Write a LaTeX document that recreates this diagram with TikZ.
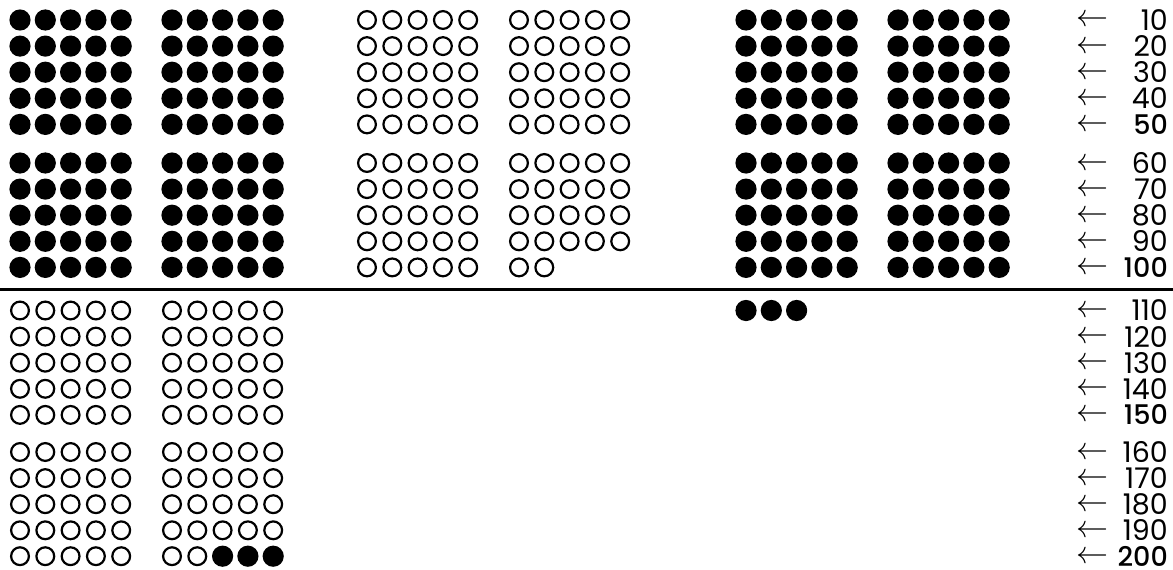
\documentclass[tikz,border=0pt]{standalone}
\usepackage{fontspec}
\setmainfont{Poppins}[BoldFont={Poppins Medium}]
\newfontfamily\arrowfont{latinmodern-math.otf}
\begin{document}
\begin{tikzpicture}[x=1pt,y=-1pt,
  full/.style={circle, fill=black, minimum size=21.2pt, inner sep=0pt},
  hollow/.style={circle, draw=black, line width=2.2pt, minimum size=17.8pt, inner sep=0pt},
  arr/.style={inner sep=0pt, text height=16pt, text depth=0pt, font=\fontsize{32}{32}\selectfont\arrowfont},
  num/.style={inner sep=0pt, anchor=east, font=\fontsize{28.5}{29}\selectfont},
  bnum/.style={num, font=\fontsize{27}{28}\selectfont\bfseries}]
\useasboundingbox (0,0) rectangle (1173,570);
% row y positions
\def\rowy#1{%
  \ifcase#1\or 20\or 46.1\or 72.2\or 98.3\or 124.4\or 163\or 189.1\or 215.2\or 241.3\or 267.4%
  \or 310.5\or 336.6\or 362.7\or 388.8\or 414.9\or 452\or 478.1\or 504.2\or 530.3\or 556.2\fi}
% upper half: groups 1,2,5,6 filled
\foreach \g/\gx in {1/20,2/172,5/746,6/898}{
  \foreach \r in {1,...,10}{
    \foreach \c in {1,...,5}{
      \node[full] (f\g-\r-\c) at ({\gx+25.3*(\c-1)},{\rowy{\r}}) {};
    }}}
% upper half: groups 3,4 hollow rows 1-9
\foreach \g/\gx in {3/367,4/519}{
  \foreach \r in {1,...,9}{
    \foreach \c in {1,...,5}{
      \node[hollow] (h\g-\r-\c) at ({\gx+25.3*(\c-1)},{\rowy{\r}}) {};
    }}}
\foreach \c in {1,...,5}{\node[hollow] (h3-10-\c) at ({367+25.3*(\c-1)},{\rowy{10}}) {};}
\foreach \c in {1,2}{\node[hollow] (h4-10-\c) at ({519+25.3*(\c-1)},{\rowy{10}}) {};}
% divider
\coordinate (L) at (0,289);
\coordinate (R) at (1173,289);
\draw[line width=3pt] (L) -- (R);
% lower half: groups 1,2 hollow rows 11-19
\foreach \g/\gx in {1/20,2/172}{
  \foreach \r in {11,...,19}{
    \foreach \c in {1,...,5}{
      \node[hollow] (h\g-\r-\c) at ({\gx+25.3*(\c-1)},{\rowy{\r}}) {};
    }}}
\foreach \c in {1,...,5}{\node[hollow] (h1-20-\c) at ({20+25.3*(\c-1)},{\rowy{20}}) {};}
\foreach \c in {1,2}{\node[hollow] (h2-20-\c) at ({172+25.3*(\c-1)},{\rowy{20}}) {};}
\foreach \c in {3,4,5}{\node[full] (f2-20-\c) at ({172+25.3*(\c-1)},{\rowy{20}}) {};}
\foreach \c in {1,2,3}{\node[full] (f5-11-\c) at ({746+25.3*(\c-1)},{\rowy{11}}) {};}
% labels
\foreach \r in {1,...,20}{
  \node[arr] (a\r) at (1092,{\rowy{\r}-1}) {←};
  \pgfmathtruncatemacro{\v}{10*\r}
  \pgfmathtruncatemacro{\m}{mod(\r,5)}
  \ifnum\m=0
    \node[bnum] (n\r) at (1168,{\rowy{\r}}) {\v};
  \else
    \node[num] (n\r) at (1168,{\rowy{\r}}) {\v};
  \fi
}
\end{tikzpicture}
\end{document}
